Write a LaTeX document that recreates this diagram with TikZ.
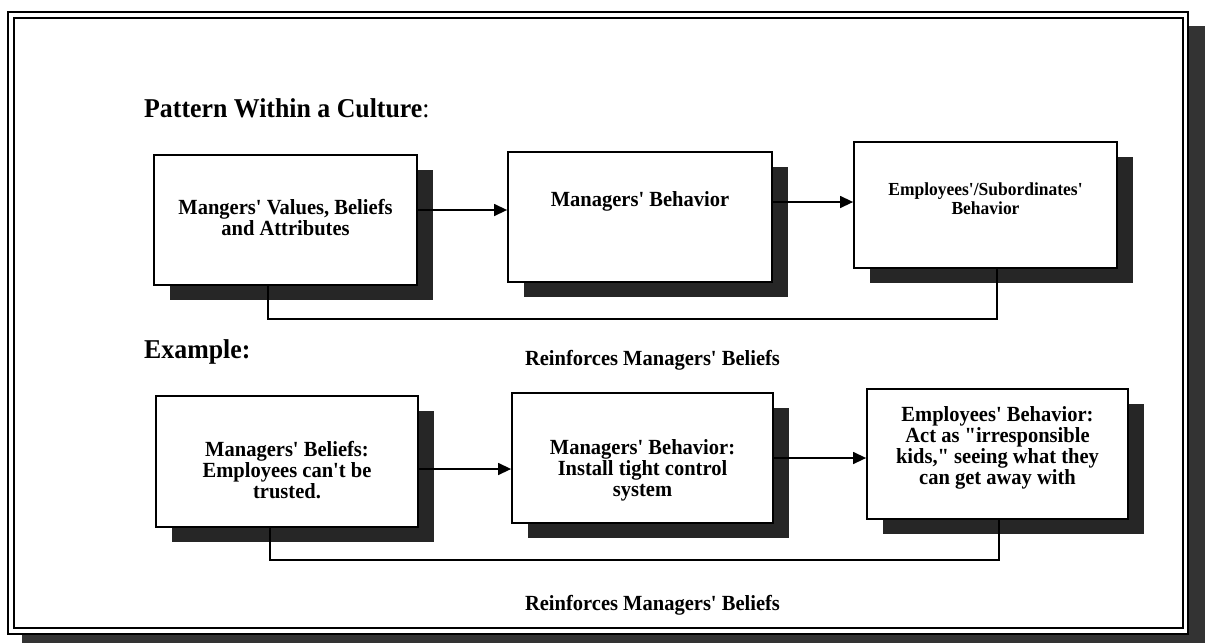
\documentclass[tikz,border=0pt]{standalone}
\usepackage{fontspec}
\setmainfont{Liberation Serif}[FakeStretch=0.95, Ligatures=TeXOff]
\usetikzlibrary{arrows.meta,shadows}
\begin{document}
\begin{tikzpicture}[x=1pt,y=-1pt,
  stepbox/.style={draw=black, line width=1.8pt, fill=white, inner sep=0pt,
    drop shadow={shadow xshift=16pt, shadow yshift=-15pt, fill=black!85, opacity=1}},
  boxtext/.style={align=center, inner sep=0pt, font=\fontsize{21.6}{21}\selectfont\bfseries},
  smalltext/.style={align=center, inner sep=0pt, font=\fontsize{18.4}{19}\selectfont\bfseries},
  heading/.style={anchor=base west, inner sep=0pt, font=\fontsize{27.2}{30}\selectfont\bfseries},
  caption/.style={inner sep=0pt, font=\fontsize{21.6}{24}\selectfont\bfseries},
  arr/.style={line width=1.4pt, -{Triangle[length=13pt,width=12pt]}},
  fbline/.style={line width=1.6pt}]
\useasboundingbox (0,0) rectangle (1213,643);

% page frame with its shadow
\fill[black!80] (22,26) rectangle (1205,643);
\filldraw[fill=white, line width=1.2pt] (8,12) rectangle (1188,634);
\draw[line width=2.2pt] (14,18) rectangle (1183,628);

% headings
\node[heading] (title) at (144,117) {Pattern Within a Culture\mdseries:};
\node[heading] (example) at (144,358) {Example:};

% upper chain
\node[stepbox, minimum width=263pt, minimum height=130pt] (b1) at (285.5,220) {};
\node[stepbox, minimum width=264pt, minimum height=130pt] (b2) at (640,217) {};
\node[stepbox, minimum width=263pt, minimum height=126pt] (b3) at (985.5,205) {};
\node[boxtext] (t1) at (285.5,218) {Mangers' Values, Beliefs\\and Attributes};
\node[boxtext] (t2) at (640,201) {Managers' Behavior};
\node[smalltext] (t3) at (985.5,199) {Employees'/Subordinates'\\Behavior};

\draw[arr] ([yshift=10pt]b1.east) -- ([yshift=10pt]b1.east -| b2.west);
\draw[arr] ([yshift=15pt]b2.east) -- ([yshift=15pt]b2.east -| b3.west);

\coordinate (fbA) at (268,319);
\draw[fbline] ([xshift=11.5pt]b3.south) |- (fbA) -- ([xshift=-17.5pt]b1.south);
\node[caption] (c1) at (652.5,360) {Reinforces Managers' Beliefs};

% example chain
\node[stepbox, minimum width=262pt, minimum height=131pt] (b4) at (287,461.5) {};
\node[stepbox, minimum width=261pt, minimum height=130pt] (b5) at (642.5,458) {};
\node[stepbox, minimum width=261pt, minimum height=130pt] (b6) at (997.5,454) {};
\node[boxtext] (t4) at (287,470) {Managers' Beliefs:\\Employees can't be\\trusted.};
\node[boxtext] (t5) at (642.5,470) {Managers' Behavior:\\Install tight control\\system};
\node[boxtext] (t6) at (997.5,448) {Employees' Behavior:\\Act as "irresponsible\\kids," seeing what they\\can get away with};

\draw[arr] ([yshift=-7.5pt]b4.east) -- ([yshift=-7.5pt]b4.east -| b5.west);
\draw[arr] (b5.east) -- (b5.east -| b6.west);

\coordinate (fbB) at (270,560);
\draw[fbline] ([xshift=1.5pt]b6.south) |- (fbB) -- ([xshift=-17pt]b4.south);
\node[caption] (c2) at (652.5,605) {Reinforces Managers' Beliefs};
\end{tikzpicture}
\end{document}
